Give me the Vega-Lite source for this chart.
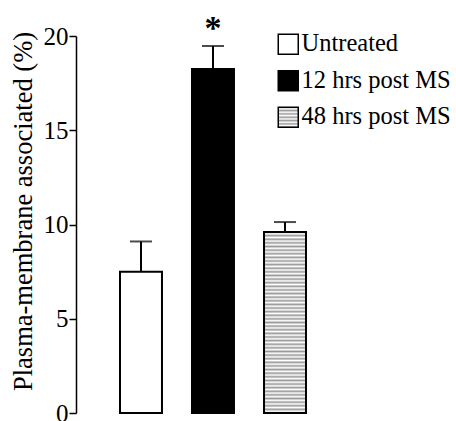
{
  "$schema": "https://vega.github.io/schema/vega-lite/v6.json",
  "autosize": "none",
  "width": 274,
  "height": 377,
  "padding": {"left": 76, "top": 36, "right": 106, "bottom": 8},
  "background": "white",
  "config": {
    "view": {"stroke": null},
    "font": "Liberation Serif",
    "axis": {"grid": false}
  },
  "data": {
    "values": [
      {"group": "Untreated", "value": 7.5, "upper": 9.1, "sig": ""},
      {"group": "12 hrs post MS", "value": 18.25, "upper": 19.47, "sig": "*"},
      {"group": "48 hrs post MS", "value": 9.6, "upper": 10.13, "sig": ""}
    ]
  },
  "encoding": {
    "x": {
      "field": "group",
      "type": "nominal",
      "sort": null,
      "scale": {"paddingInner": 0.417, "paddingOuter": 0.611},
      "axis": null
    }
  },
  "layer": [
    {
      "mark": {"type": "rule", "stroke": "black", "strokeWidth": 2},
      "encoding": {
        "y": {"field": "value", "type": "quantitative"},
        "y2": {"field": "upper"}
      }
    },
    {
      "mark": {"type": "tick", "color": "black", "size": 22, "thickness": 2, "orient": "horizontal"},
      "encoding": {
        "y": {"field": "upper", "type": "quantitative"}
      }
    },
    {
      "mark": {"type": "bar", "stroke": "black", "strokeWidth": 2, "opacity": 1, "fillOpacity": 1},
      "encoding": {
        "y": {
          "field": "value",
          "type": "quantitative",
          "scale": {"domain": [0, 20], "nice": false},
          "axis": {
            "title": "Plasma-membrane associated (%)",
            "titleFont": "Liberation Serif",
            "titleFontSize": 26.5,
            "titleFontWeight": "normal",
            "titleColor": "black",
            "titlePadding": 6,
            "titleY": 175,
            "values": [0, 5, 10, 15, 20],
            "labelFont": "Liberation Serif",
            "labelFontSize": 25,
            "labelColor": "black",
            "labelPadding": 1,
            "tickSize": 7,
            "tickColor": "black",
            "tickWidth": 1.5,
            "domainColor": "black",
            "domainWidth": 1.5
          }
        },
        "fill": {
          "field": "group",
          "type": "nominal",
          "scale": {
            "domain": ["Untreated", "12 hrs post MS", "48 hrs post MS"],
            "range": ["white", "black", {"expr": "{gradient: 'linear', x1: 0, y1: 0, x2: 0, y2: 1, stops: [{offset: 0, color: '#999999'}, {offset: 0.0833, color: '#ffffff'}, {offset: 0.1667, color: '#999999'}, {offset: 0.25, color: '#ffffff'}, {offset: 0.3333, color: '#999999'}, {offset: 0.4167, color: '#ffffff'}, {offset: 0.5, color: '#999999'}, {offset: 0.5833, color: '#ffffff'}, {offset: 0.6667, color: '#999999'}, {offset: 0.75, color: '#ffffff'}, {offset: 0.8333, color: '#999999'}, {offset: 0.9167, color: '#ffffff'}, {offset: 1, color: '#999999'}]}"}]
          },
          "legend": {
            "orient": "none",
            "legendX": 200,
            "legendY": -4,
            "title": null,
            "symbolType": "square",
            "symbolSize": 400,
            "symbolStrokeColor": "black",
            "symbolStrokeWidth": 1.5,
            "labelFont": "Liberation Serif",
            "labelFontSize": 24.5,
            "labelColor": "black",
            "labelOffset": 1,
            "rowPadding": 9.5,
            "labelLimit": 300
          },
          "condition": {
            "test": "datum.group === '48 hrs post MS'",
            "value": {
              "gradient": "linear", "x1": 0, "y1": 0, "x2": 0, "y2": 1,
              "stops": [
                {"offset": 0.00, "color": "#999999"}, {"offset": 0.01, "color": "#ffffff"},
                {"offset": 0.02, "color": "#999999"}, {"offset": 0.03, "color": "#ffffff"},
                {"offset": 0.04, "color": "#999999"}, {"offset": 0.05, "color": "#ffffff"},
                {"offset": 0.06, "color": "#999999"}, {"offset": 0.07, "color": "#ffffff"},
                {"offset": 0.08, "color": "#999999"}, {"offset": 0.09, "color": "#ffffff"},
                {"offset": 0.10, "color": "#999999"}, {"offset": 0.11, "color": "#ffffff"},
                {"offset": 0.12, "color": "#999999"}, {"offset": 0.13, "color": "#ffffff"},
                {"offset": 0.14, "color": "#999999"}, {"offset": 0.15, "color": "#ffffff"},
                {"offset": 0.16, "color": "#999999"}, {"offset": 0.17, "color": "#ffffff"},
                {"offset": 0.18, "color": "#999999"}, {"offset": 0.19, "color": "#ffffff"},
                {"offset": 0.20, "color": "#999999"}, {"offset": 0.21, "color": "#ffffff"},
                {"offset": 0.22, "color": "#999999"}, {"offset": 0.23, "color": "#ffffff"},
                {"offset": 0.24, "color": "#999999"}, {"offset": 0.25, "color": "#ffffff"},
                {"offset": 0.26, "color": "#999999"}, {"offset": 0.27, "color": "#ffffff"},
                {"offset": 0.28, "color": "#999999"}, {"offset": 0.29, "color": "#ffffff"},
                {"offset": 0.30, "color": "#999999"}, {"offset": 0.31, "color": "#ffffff"},
                {"offset": 0.32, "color": "#999999"}, {"offset": 0.33, "color": "#ffffff"},
                {"offset": 0.34, "color": "#999999"}, {"offset": 0.35, "color": "#ffffff"},
                {"offset": 0.36, "color": "#999999"}, {"offset": 0.37, "color": "#ffffff"},
                {"offset": 0.38, "color": "#999999"}, {"offset": 0.39, "color": "#ffffff"},
                {"offset": 0.40, "color": "#999999"}, {"offset": 0.41, "color": "#ffffff"},
                {"offset": 0.42, "color": "#999999"}, {"offset": 0.43, "color": "#ffffff"},
                {"offset": 0.44, "color": "#999999"}, {"offset": 0.45, "color": "#ffffff"},
                {"offset": 0.46, "color": "#999999"}, {"offset": 0.47, "color": "#ffffff"},
                {"offset": 0.48, "color": "#999999"}, {"offset": 0.49, "color": "#ffffff"},
                {"offset": 0.50, "color": "#999999"}, {"offset": 0.51, "color": "#ffffff"},
                {"offset": 0.52, "color": "#999999"}, {"offset": 0.53, "color": "#ffffff"},
                {"offset": 0.54, "color": "#999999"}, {"offset": 0.55, "color": "#ffffff"},
                {"offset": 0.56, "color": "#999999"}, {"offset": 0.57, "color": "#ffffff"},
                {"offset": 0.58, "color": "#999999"}, {"offset": 0.59, "color": "#ffffff"},
                {"offset": 0.60, "color": "#999999"}, {"offset": 0.61, "color": "#ffffff"},
                {"offset": 0.62, "color": "#999999"}, {"offset": 0.63, "color": "#ffffff"},
                {"offset": 0.64, "color": "#999999"}, {"offset": 0.65, "color": "#ffffff"},
                {"offset": 0.66, "color": "#999999"}, {"offset": 0.67, "color": "#ffffff"},
                {"offset": 0.68, "color": "#999999"}, {"offset": 0.69, "color": "#ffffff"},
                {"offset": 0.70, "color": "#999999"}, {"offset": 0.71, "color": "#ffffff"},
                {"offset": 0.72, "color": "#999999"}, {"offset": 0.73, "color": "#ffffff"},
                {"offset": 0.74, "color": "#999999"}, {"offset": 0.75, "color": "#ffffff"},
                {"offset": 0.76, "color": "#999999"}, {"offset": 0.77, "color": "#ffffff"},
                {"offset": 0.78, "color": "#999999"}, {"offset": 0.79, "color": "#ffffff"},
                {"offset": 0.80, "color": "#999999"}, {"offset": 0.81, "color": "#ffffff"},
                {"offset": 0.82, "color": "#999999"}, {"offset": 0.83, "color": "#ffffff"},
                {"offset": 0.84, "color": "#999999"}, {"offset": 0.85, "color": "#ffffff"},
                {"offset": 0.86, "color": "#999999"}, {"offset": 0.87, "color": "#ffffff"},
                {"offset": 0.88, "color": "#999999"}, {"offset": 0.89, "color": "#ffffff"},
                {"offset": 0.90, "color": "#999999"}, {"offset": 0.91, "color": "#ffffff"},
                {"offset": 0.92, "color": "#999999"}, {"offset": 0.93, "color": "#ffffff"},
                {"offset": 0.94, "color": "#999999"}, {"offset": 0.95, "color": "#ffffff"},
                {"offset": 0.96, "color": "#999999"}, {"offset": 0.97, "color": "#ffffff"},
                {"offset": 0.98, "color": "#999999"}, {"offset": 0.99, "color": "#ffffff"},
                {"offset": 1.00, "color": "#999999"}
              ]
            }
          }
        }
      }
    },
    {
      "mark": {"type": "text", "font": "Liberation Serif", "fontSize": 34, "fontWeight": "bold", "baseline": "middle", "dy": -17, "color": "black"},
      "encoding": {
        "y": {"field": "upper", "type": "quantitative"},
        "text": {"field": "sig"}
      }
    }
  ]
}
